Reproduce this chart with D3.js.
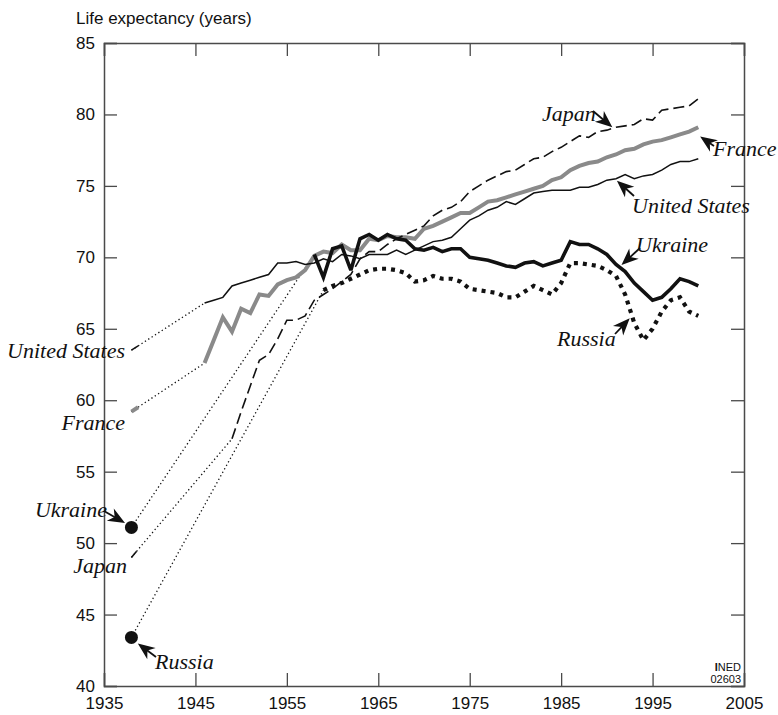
<!DOCTYPE html>
<html><head><meta charset="utf-8">
<script src="https://cdn.jsdelivr.net/npm/d3@7/dist/d3.min.js"></script>
<style>body{margin:0;background:#fff}svg{display:block}</style>
</head><body>
<svg id="chart" width="778" height="715"></svg>
<script>
// ---------------- DATA ----------------
const countries = ["United States", "France", "Japan", "Ukraine", "Russia"];
const firstYear = 1938;
const value1938 = [63.5, 59.2, 49.0, 51.1, 43.4];

const usYears = d3.range(1946, 2001);
const usValues = [66.8,67.0,67.2,68.0,68.2,68.4,68.6,68.8,69.6,69.6,69.7,69.5,69.6,69.9,69.7,70.2,70.1,69.9,70.2,70.2,
  70.2,70.5,70.2,70.5,70.8,71.1,71.2,71.4,72.0,72.6,72.9,73.3,73.5,73.9,73.7,74.1,74.5,74.6,74.7,74.7,
  74.7,74.9,74.9,75.1,75.4,75.5,75.8,75.5,75.7,75.8,76.1,76.5,76.7,76.7,76.9];

const franceYears = d3.range(1946, 2001);
const franceValues = [62.6,64.2,65.8,64.8,66.4,66.1,67.4,67.3,68.1,68.4,68.6,69.1,70.1,70.4,70.3,70.9,70.5,70.5,71.3,71.2,
  71.5,71.4,71.4,71.3,72.0,72.2,72.5,72.8,73.1,73.1,73.5,73.9,74.0,74.2,74.4,74.6,74.8,75.0,75.4,75.6,
  76.1,76.4,76.6,76.7,77.0,77.2,77.5,77.6,77.9,78.1,78.2,78.4,78.6,78.8,79.1];

const japanYears = d3.range(1949, 2001);
const japanValues = [57.3,59.2,61.0,62.8,63.2,64.3,65.6,65.6,65.9,67.0,67.4,67.8,68.3,68.8,69.9,70.4,70.4,70.9,71.3,71.6,
  71.9,72.2,72.9,73.3,73.5,73.9,74.6,75.0,75.4,75.7,76.0,76.1,76.5,76.9,77.0,77.4,77.7,78.1,78.5,78.4,
  78.8,78.9,79.1,79.2,79.3,79.7,79.6,80.3,80.4,80.5,80.6,81.1];

const ukraineYears = d3.range(1958, 2001);
const ukraineValues = [70.2,68.6,70.6,70.8,69.1,71.3,71.6,71.2,71.6,71.3,71.2,70.6,70.5,70.7,70.4,70.6,70.6,70.0,69.9,69.8,
  69.6,69.4,69.3,69.6,69.7,69.4,69.6,69.8,71.1,70.9,70.9,70.6,70.2,69.5,69.0,68.2,67.6,67.0,67.2,67.8,
  68.5,68.3,68.0];

const russiaYears = d3.range(1959, 2001);
const russiaValues = [67.7,68.0,68.2,68.5,68.8,69.1,69.2,69.2,69.1,68.9,68.3,68.4,68.7,68.5,68.5,68.3,67.8,67.7,67.6,67.5,
  67.2,67.2,67.6,68.0,67.7,67.4,68.2,69.6,69.6,69.5,69.4,69.1,68.7,67.4,65.4,64.2,65.0,66.2,67.0,67.2,
  66.2,65.9];

const xTicks = [1935, 1945, 1955, 1965, 1975, 1985, 1995, 2005];
const yTicks = [40, 45, 50, 55, 60, 65, 70, 75, 80, 85];

// ---------------- LAYOUT / STYLE ----------------
const svg = d3.select("#chart");
const x = d3.scaleLinear().domain([1935, 2005]).range([104, 744]);
const y = d3.scaleLinear().domain([40, 85]).range([686, 43]);
const axisColor = "#4a4a4a";
const sans = "'Liberation Sans', Arial, Helvetica, sans-serif";
const serif = "'Liberation Serif', 'Times New Roman', serif";

const seriesData = {
  "United States": {years: usYears, values: usValues},
  "France": {years: franceYears, values: franceValues},
  "Japan": {years: japanYears, values: japanValues},
  "Ukraine": {years: ukraineYears, values: ukraineValues},
  "Russia": {years: russiaYears, values: russiaValues}
};
const styles = {
  "United States": {color: "#111", width: 1.5, dash: null, start: "stub"},
  "France": {color: "#8a8a8a", width: 4, dash: null, start: "stub"},
  "Japan": {color: "#111", width: 1.6, dash: "11,5", start: "stub"},
  "Ukraine": {color: "#111", width: 3.6, dash: null, start: "dot"},
  "Russia": {color: "#111", width: 4.2, dash: "4,5", start: "dot"}
};
const drawOrder = ["France", "United States", "Japan", "Russia", "Ukraine"];

// ---------------- AXES / FRAME ----------------
const gB = svg.append("g").attr("transform", `translate(0,${y(40)})`)
  .call(d3.axisBottom(x).tickValues(xTicks).tickSize(-13).tickPadding(11).tickFormat(d3.format("d")));
const gT = svg.append("g").attr("transform", `translate(0,${y(85)})`)
  .call(d3.axisTop(x).tickValues(xTicks).tickSize(-13).tickFormat(""));
const gL = svg.append("g").attr("transform", `translate(${x(1935)},0)`)
  .call(d3.axisLeft(y).tickValues(yTicks).tickSize(-13).tickPadding(9));
const gR = svg.append("g").attr("transform", `translate(${x(2005)},0)`)
  .call(d3.axisRight(y).tickValues(yTicks).tickSize(-13).tickFormat(""));
[gB, gT, gL, gR].forEach(g => {
  g.selectAll("path.domain").attr("stroke", axisColor).attr("stroke-width", 1.5);
  g.selectAll(".tick line").attr("stroke", axisColor).attr("stroke-width", 1.3);
  g.selectAll(".tick text").attr("fill", "#111").style("font-family", sans).style("font-size", "17px");
});

svg.append("text").attr("x", 76).attr("y", 24).text("Life expectancy (years)")
  .style("font-family", sans).style("font-size", "17px").attr("fill", "#111");

// ---------------- SERIES ----------------
const line = d3.line().x(d => x(d[0])).y(d => y(d[1]));
const gGap = svg.append("g");
const gSeries = svg.append("g");

drawOrder.forEach(name => {
  const i = countries.indexOf(name);
  const s = styles[name];
  const d = seriesData[name];
  const pts = d.years.map((yr, k) => [yr, d.values[k]]);
  const p0 = [firstYear, value1938[i]];
  gGap.append("path").attr("d", line([p0, pts[0]]))
    .attr("fill", "none").attr("stroke", "#111").attr("stroke-width", 1.3)
    .attr("stroke-dasharray", "1.3,2.7");
  if (s.start === "stub") {
    const dx = x(pts[0][0]) - x(p0[0]), dy = y(pts[0][1]) - y(p0[1]);
    const len = Math.hypot(dx, dy), L = 8;
    gSeries.append("line")
      .attr("x1", x(p0[0])).attr("y1", y(p0[1]))
      .attr("x2", x(p0[0]) + dx / len * L).attr("y2", y(p0[1]) + dy / len * L)
      .attr("stroke", s.color).attr("stroke-width", s.width);
  } else {
    gSeries.append("circle").attr("cx", x(p0[0])).attr("cy", y(p0[1])).attr("r", 6.5).attr("fill", "#111");
  }
  gSeries.append("path").attr("d", line(pts))
    .attr("fill", "none").attr("stroke", s.color).attr("stroke-width", s.width)
    .attr("stroke-linejoin", "miter").attr("stroke-miterlimit", 3)
    .attr("stroke-dasharray", s.dash);
});

// ---------------- LABELS & ARROWS ----------------
const labels = [
  {text: "Japan", x: 542, y: 121, anchor: "start", tail: [593, 111], tip: [1990.6, 79.1]},
  {text: "France", x: 713, y: 156, anchor: "start", tail: [714, 146], tip: [2000.2, 78.45]},
  {text: "United States", x: 632, y: 213, anchor: "start", tail: [634, 196], tip: [1991.1, 75.36]},
  {text: "Ukraine", x: 636, y: 252, anchor: "start", tail: [640, 248], tip: [1991.6, 69.46]},
  {text: "Russia", x: 557, y: 346, anchor: "start", tail: [615, 334], tip: [1992.5, 65.73]},
  {text: "United States", x: 125, y: 358, anchor: "end"},
  {text: "France", x: 125, y: 430, anchor: "end"},
  {text: "Ukraine", x: 107, y: 517, anchor: "end", tail: [104, 511], tip: [1937.3, 51.4]},
  {text: "Japan", x: 127, y: 573, anchor: "end"},
  {text: "Russia", x: 155, y: 669, anchor: "start", tail: [156, 657], tip: [1938.7, 42.98]}
];
const gLab = svg.append("g");
labels.forEach(l => {
  gLab.append("text").attr("x", l.x).attr("y", l.y).attr("text-anchor", l.anchor)
    .text(l.text).style("font-family", serif).style("font-style", "italic")
    .style("font-size", "22px").attr("fill", "#111");
  if (l.tail) {
    const tx = x(l.tip[0]), ty = y(l.tip[1]);
    const [ax, ay] = l.tail;
    const dx = tx - ax, dy = ty - ay, len = Math.hypot(dx, dy);
    const ux = dx / len, uy = dy / len, px = -uy, py = ux;
    const hl = Math.min(17, len), hw = 7, notch = 5;
    gLab.append("line").attr("x1", ax).attr("y1", ay).attr("x2", tx - ux * hl * 0.6).attr("y2", ty - uy * hl * 0.6)
      .attr("stroke", "#111").attr("stroke-width", 1.8);
    const bx = tx - ux * hl, by = ty - uy * hl;
    const pts = [[tx, ty], [bx + px * hw, by + py * hw], [bx + ux * notch, by + uy * notch], [bx - px * hw, by - py * hw]];
    gLab.append("path").attr("d", "M" + pts.map(p => p.join(",")).join("L") + "Z").attr("fill", "#111");
  }
});

// ---------------- SOURCE ----------------
const src = svg.append("text").attr("x", 741).attr("y", 671).attr("text-anchor", "end")
  .style("font-family", sans).style("font-size", "11px").attr("fill", "#111");
src.append("tspan").text("I").style("font-weight", "bold");
src.append("tspan").text("NED");
svg.append("text").attr("x", 741).attr("y", 683).attr("text-anchor", "end").text("02603")
  .style("font-family", sans).style("font-size", "11px").attr("fill", "#111");
</script>
</body></html>
